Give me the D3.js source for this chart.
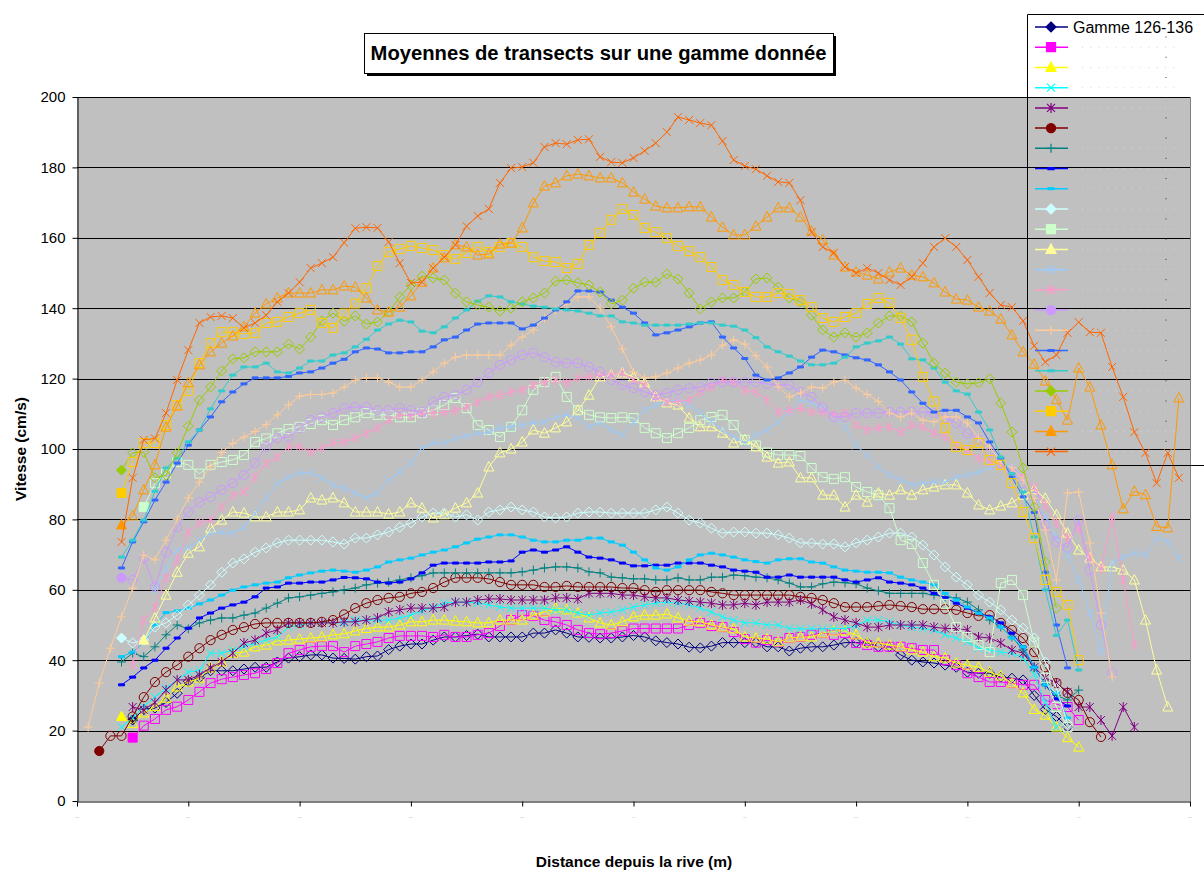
<!DOCTYPE html>
<html>
<head>
<meta charset="utf-8">
<script src="https://cdn.jsdelivr.net/npm/d3@7"></script>
<style>
  html, body { margin: 0; padding: 0; background: #fff; }
  svg { display: block; font-family: "Liberation Sans", Arial, sans-serif; }
</style>
</head>
<body>
<svg id="chart" width="1204" height="876"></svg>
<script>
// ---- data -------------------------------------------------------------
const titleText = "Moyennes de transects sur une gamme donnée";
const yTitle = "Vitesse (cm/s)";
const xTitle = "Distance depuis la rive (m)";
const legendLabel = "Gamme 126-136";

const yTicks = [0, 20, 40, 60, 80, 100, 120, 140, 160, 180, 200];
const xTickCats = [0, 10, 20, 30, 40, 50, 60, 70, 80, 90, 100];

// mean velocity (cm/s) per transect position, one array per range
const g01 = [null,null,null,null,null,23,26,26.4,28,30.6,
  34,35,37,37,37,37.5,38,38,39.5,40.6,
  41,41.5,41.5,40.6,40.5,40.3,41,41.2,43,44,
  44.6,44.6,45.7,46.6,46.6,47,47.4,46.6,46.6,46.6,
  46.6,47.7,47.7,48.6,47.7,46.6,46.5,46.3,46.3,46.6,
  47,46.6,45.5,45,44.6,43.7,43.5,44,45,45,
  45,45,43.8,43.8,42.6,43.4,43.8,43.8,44.3,45,
  45,44.9,43.8,43.8,41.5,40,39.5,39.2,38.6,38,
  36.6,36.3,36.3,35.2,34.9,34.4,30,26,24,21];
const g02 = [null,null,null,null,null,18,21.4,23.3,25.9,26.8,
  28.7,31,33.5,34.6,35.2,35.8,36.3,37.5,39.2,42,
  42.9,43.8,44,44,42.3,44,44.6,45.2,46.3,46.9,
  46.9,46.9,46.6,47.2,46.6,46.6,47.2,47.7,49.7,51.4,
  52.8,52.6,51.4,50.9,50,48.6,47.7,47.4,47.7,48.3,
  49,49,49,49,49,50,50.6,49.7,49.4,48,
  46,45,45.7,45.2,46.3,46.6,47.2,47.7,47.2,47.7,
  44.9,44.3,43.8,43.8,43.8,43.4,42.9,42.9,40,38.6,
  36.3,35.2,33.8,33.8,33.5,33,33,28.7,27.5,26.7,
  23];
const g03 = [null,null,null,null,24,22,25,26.8,29.2,32.4,
  33.8,34.9,37.8,39.5,42,42.3,43.8,44.3,45.5,45.7,
  46,46.3,46.6,47.2,47.5,48.3,49,49.4,49.4,50,
  50.9,50.9,51.4,51.4,51.1,50.9,50.6,50.6,51.4,51.4,
  51.4,52.8,53.7,54.8,54.3,53.4,52,50.6,50,50.9,
  52.3,52.8,52.8,53.1,52,51.1,50.9,50,49.4,48.9,
  46.6,46.3,46,45.2,46.3,46.6,46.6,47.7,48.3,48.3,
  47.2,44.9,44.9,44.3,43.8,42.9,42.3,41,40.6,39.2,
  38.6,38,36.6,35.5,33.5,30.7,26,24.4,21,18,
  15.3];
const g04 = [null,null,null,null,21,23.6,26.8,29.5,32,34.4,
  36.6,37.2,42,42,42.9,43.8,44.9,45.7,46.6,49.4,
  50,50.6,50.6,50.6,50.6,51.4,51.4,51.4,51.4,52,
  52.8,54,55,56.2,56.5,56.5,56.2,55.7,55.1,54.8,
  54.8,54.8,54.8,54.3,54.3,53.4,52.8,53.4,53.7,54.3,
  55.1,55.7,56.2,56.5,56.2,55.7,54.8,53.7,52.3,51.4,
  50.6,50.6,50,50,49,48.9,48.9,48.9,49,49,
  49.7,51.4,51.4,50.9,50,49.4,49,48.6,47.2,46.3,
  45.2,43.4,42.9,42.3,42,40.6,36,28,21];
const g05 = [null,null,null,null,null,26.7,25.9,28,31.5,34.4,
  34.4,35.8,37.8,39.5,42,44.9,45.7,47.7,48.6,50.6,
  50.6,50.6,50.6,50.6,50.9,50.9,51.4,52,53.7,54.3,
  54.8,54.8,54.8,55.1,56.5,56.5,57.1,57.4,57.4,57.1,
  57.1,57.1,57.1,57.7,57.7,57.4,59,59,59,58.5,
  58.5,58,57.7,57.7,57.1,56.8,56.5,56.2,55.7,55.7,
  56.2,55.7,56.5,56.5,56.5,57.1,56,54.3,52.3,51.4,
  50.6,49.4,49.4,50,50,50,50,49.4,49,49,
  48.6,46.6,46.3,44.9,42.9,42,38,35,33.5,31,
  26.7,26.7,23,18.5,26.7,21];
const g06 = [null,null,14.2,18.5,18.5,24,29.5,33.8,36.6,38.6,
  41,43.4,45.7,47.2,48.6,49.4,50.3,50.6,50.6,50.6,
  50.6,50.6,50.9,51.4,53,54.8,56.2,57.1,57.7,58,
  59,59.4,60.5,62.2,63.4,63.4,63.4,63.1,62.2,61.4,
  61.4,61.4,60.8,60.8,61.1,60.8,60.8,60.8,60.8,60.5,
  60.5,59.9,59.4,59.9,59.9,59.9,59.9,59.4,59,58.5,
  58.5,58.5,58.5,58.5,58.5,58,57.7,57.1,56.2,55.1,
  55.1,55.1,55.4,55.7,55.4,55.1,54.5,54.5,54.5,54.3,
  53.4,52.6,52.8,50.6,48.6,46.3,42.3,38,33.5,30.7,
  28.7,22.4,18.2];
const g07 = [null,null,null,null,39.5,42,41,43.8,47.2,50,
  48.9,50.6,51.4,52,52,52.8,53.4,54.8,56.2,57.7,
  58,58.5,59,59.4,60,60.5,61.4,61.9,62.2,62.8,
  63.4,64,64.8,64.8,64.8,64.8,64.8,64.8,64.8,64.8,
  65.1,65.6,66.2,66.5,66.5,66.2,65.1,64.8,63.6,63.4,
  63.1,63.1,62.8,62.8,63.4,62.8,62.8,63.6,63.6,64.2,
  64,63.6,63.4,62.8,61.9,60.8,60.8,61.7,62.2,62,
  61.7,60.5,59.7,59,59,59,59,58.5,58,57.7,
  56.5,54.3,51.4,49.4,46.6,42.9,38,33,30,28.7,
  31.5];
const g08 = [null,null,null,null,33,35.2,37.8,40,43.4,46.3,
  49.1,52,53.4,54.8,55.7,56.5,58,60.5,60.8,61.9,
  61.9,62.2,62.2,62.8,63.5,63.4,63.1,62.2,61.9,62.2,
  63.1,64.8,67,67.6,67.6,67.6,67.6,67.9,67.9,68.2,
  70.7,71.3,70.7,71.3,72.2,70.7,69.3,69,68.5,67.6,
  66.8,66.8,67,67,67.6,67.6,67.6,67,66.5,65.6,
  65.3,65,63.6,63.6,64.2,63.6,63.6,63.6,63.6,62.8,
  62.2,62.8,63.4,62.2,61.9,61.4,60.5,59,57.7,56.2,
  54.8,53.4,52.3,50.6,47.7,43.8,38,33,29,27];
const g09 = [null,null,null,null,41,42.3,45,50,53.5,54,
  54.8,56,57.1,58.5,59.9,60.8,61.4,61.9,62.2,63.4,
  64.2,64.8,65.3,65.6,65.3,65,65.6,66.5,67.9,68.5,
  69,69.9,70.7,71.3,72.2,73.3,74.4,75,75.6,75.6,
  75,74.1,73.6,73.6,74.1,74.1,74.7,74.7,73.6,72.7,
  70.7,68.5,66.2,65.6,66.5,68.5,69.9,70.4,69.9,69.3,
  68.5,68,67.6,68.5,68.8,68.8,67.9,67.6,66.5,65.6,
  65.3,65,65,64.8,63.6,62.8,62.2,61.4,59,57.1,
  55.1,53.4,52,49.4,46.3,43.8,38,33,30.7,23.6];
const g10 = [null,null,null,null,46.3,44.9,45.7,49.4,50.6,52.8,
  55.7,58.5,61.4,65,67.6,68.8,70.7,71.9,73.3,74.1,
  74.1,74.1,74.1,73.6,73,74.7,74.7,75.6,76.4,77.8,
  79,80.7,81.8,81.8,80.7,81.3,79.8,82.1,82.7,83.5,
  82.7,82.1,80.7,80.4,80.7,81.8,82.1,82.1,81.8,81.8,
  81.8,81.8,82.7,83.5,81.8,79.8,79,77.5,76.1,76.4,
  76.4,76.1,76.1,75.6,74.7,73.3,73.3,73,73,72.2,
  73.3,74.1,75,76.1,76.1,75,72.7,69.9,66.5,63.6,
  61.4,58.5,56.5,54.3,51.4,49.1,46.3,39.5,32,22];
const g11 = [null,null,null,null,null,null,83.5,90.3,93,96.3,
  95.5,93,95.5,96.3,96.9,98.3,102,103,104.5,105.7,
  106.3,107.1,108.2,106.8,108.2,109,110.2,109.7,109.7,109,
  109,110.2,111,112.5,114.5,111.6,106.8,105.4,103.4,106.3,
  111,116.8,119,120.5,114.8,111,109.7,109,108.8,109,
  108.8,106,104.5,103.1,104.5,106,108.2,109.1,109.7,106.8,
  102.6,101,99,98.3,98.3,98,94.6,92,91.5,92,
  89.2,87.8,86.9,83.2,74.1,73,67.6,61.4,56,49.4,
  46.6,44.3,42.3,61.9,62.8,58.5,45,35,26.7,21];
const g12 = [null,null,null,null,null,null,45.7,52,58.5,65,
  70.4,72.2,77.5,79.8,82.1,81.8,80.7,80.7,82.1,82.1,
  82.7,86.1,85.5,86.1,84.7,82.1,82.1,82.1,81.5,82.1,
  84.7,83.2,80.4,81.3,83.2,84.7,87.5,94.9,98.9,100,
  102,105.4,104.5,106,107.7,111,115.3,120.5,121,121.6,
  120.5,118.8,114.8,113.1,112.5,108.8,106.3,106.3,104.5,101.7,
  102.6,100.6,97.7,96,96.3,91.8,91.8,86.9,86.9,83.5,
  86.9,84.9,87.5,86.9,88.4,86.9,88.4,89.2,89.8,89.8,
  87.5,84.1,82.7,83.8,84.7,86.9,88.4,86,81.3,76.1,
  71.3,69,66.5,66.5,65.6,62.8,51.4,37.2,26.7];
const g13 = [null,null,null,null,null,null,null,60,66,71.3,
  71.9,74,76.1,76.4,76.1,77.8,81.8,86.1,90.3,92,
  93.2,93.2,91.8,89.8,88.9,87.5,86.1,87.5,91.2,93.5,
  96,100.3,101.7,101.7,103.1,103.7,104.5,104.8,106,106.3,
  106.8,107.4,107.7,109,109.7,108.8,106.3,107.4,105.4,104,
  107.7,111,112.5,113.4,113.9,112.5,110.2,107.7,105.4,103.4,
  101.7,104,105.4,107.7,110.5,113.9,113.1,111.6,109,106.3,
  101,98.3,94.9,92.6,91.2,89.8,90.3,90.6,90.6,92,
  92.6,93.5,94.6,96,95,92,86,80.7,75,69.9,
  62.8,53.4,42.3,67.6,69.3,70.4,69.9,74.7,73.6,69];
const g14 = [null,null,null,null,null,38.6,51.4,55,63.4,68.5,
  76.4,79,79.8,83.5,86.9,87.8,92,96,97.7,100.6,
  100.6,99.1,100.3,101.7,102,103.1,104.5,106,108.2,109.7,
  109.4,110.2,110.2,110.5,111,111.9,113.4,114.8,115.3,116.2,
  116.8,118.2,119,119.6,118.8,120.2,120.5,121,121,121.6,
  119.6,118.2,114.8,113.4,113.4,113.9,116.2,117.6,119.6,119,
  116.5,116.2,113.9,110.5,111,111.6,110.5,110.5,109.7,110.2,
  106.8,105.4,106,106.3,104.8,106.8,106.3,104.5,103.4,101,
  99.7,97.4,96.3,95.5,94,92,89.2,84,79,74.7,
  77.5,69,66,80.7,62.8,44.3];
const g15 = [null,null,null,null,63.4,62.8,69,60.8,70.7,77.8,
  82.1,84.9,86.4,88.4,90.3,92.6,96,100.6,103.1,103.4,
  106,108.2,109.1,110.2,111.6,111.9,111.9,111,111,111.6,
  111,110.5,113.4,114.8,115.3,116.8,119,121.6,123.9,125.3,
  126.7,127.3,126.1,124.7,124.4,124.4,123.3,121.9,119.6,118.2,
  117.3,116.2,115.3,115.9,116.8,117.3,117.6,118.8,119,119,
  119,119,118.5,118.2,118.2,116.2,114.8,111.9,109.1,109.1,
  110.2,110.2,110.2,110.5,110.5,110.5,110.5,110.2,108.8,107.4,
  104.5,102.6,99.1,96,93.2,90.3,86.4,78.4,73.6,72,
  79.8,65.6,50,36.4];
const g16 = [null,21,33.5,43.4,52.3,60.5,69.9,68.5,74.1,80,
  86.1,90.6,95,99,101.6,103.4,105,107,109.7,112.5,
  115,115.5,115.5,115.9,117.6,119.6,120.2,120.2,119,117.6,
  117.6,119.6,121.9,124.4,126.1,126.7,126.7,126.7,126.7,129.5,
  131.8,133.8,137.2,139.5,141.2,143.2,143.2,140,134.7,128.4,
  121.9,120.2,120.5,121.6,123,124.4,125.3,126.7,129.5,131,
  129.8,126.5,123.3,117.6,114.8,115.9,117.6,117.3,119,119.6,
  117.3,115.5,113.5,110.2,109.1,110.2,108.2,107.7,109.1,109.1,
  107.4,103.1,100.6,96.3,94.6,91.2,86,77,62.8,87.5,
  87.8,73.3,53.4,35.2];
const g17 = [null,null,null,null,66.2,73.6,79.3,85.5,90.6,96,
  101.1,105.4,109.1,113.4,116.2,118.5,120.2,120.2,120.2,120.6,
  121.6,121.9,123,124.4,125.5,127.6,128.7,128.4,127.3,127.3,
  127.6,127.6,129,131,131.8,133.8,135.5,135.8,135.8,135.8,
  134.1,135.2,137.2,139.5,141.8,144.9,144.9,144.6,142.3,140.3,
  138.6,135.8,132.4,133,133.8,134.7,135.8,136.1,131.8,128.7,
  125.7,121,119.6,120.2,121.6,123.3,126.1,128.1,127.6,126.7,
  125.9,125.3,123.9,121.9,119.6,116.2,113,110.5,111,111,
  109.1,107.4,102,97.4,92,86.4,82,65,50,37.8];
const g18 = [null,null,null,null,69.3,74.1,79.8,88,94.6,97.4,
  102,105.4,111.4,116.5,121,123.3,123.3,124.4,121.9,121.6,
  123,125,125,126.7,127.3,129,131.2,133.8,135.5,136.6,
  136.1,133.5,133,134.7,137.2,139.5,142,143.5,143.2,141.8,
  141.2,140.6,140.3,139.8,139.5,139.2,138.6,137.8,137.8,136.1,
  135.8,135.2,135.2,135.2,135.2,135.5,135.8,135.8,135.2,134.9,
  133.8,131.6,129,127.6,126.4,125,123.9,123.9,124.4,126.1,
  129,130.1,130.7,131.8,129.8,125.6,125.3,123,119,116.5,
  115.6,110.5,105.4,97.7,93,87.8,75,60,47,51.4,
  37.2];
const g19 = [null,null,null,null,94,98.9,99.1,91.8,92.6,98.9,
  106.5,113.9,117.6,122.2,125.6,125.9,127.6,127.6,127.6,129.8,
  128.4,131.8,136.4,138.6,136.3,137.8,135.5,136.1,138.9,143.2,
  146.6,149.1,148.6,148,144.3,141.8,140.9,140.3,139.2,140,
  141.8,142.9,144.3,147.7,148,147.2,146.6,144.6,141.2,142.3,
  145.7,147.4,147.4,149.7,148.3,144.3,139.8,141.8,142.9,142.9,
  144.6,148.3,148.6,146,142.9,141.8,138,133.8,131.8,133,
  131.8,133,135.8,137.8,137.8,136.1,130.1,124.4,121.6,119,
  118.5,118.8,119.9,113,104.8,94.6,83.5,67.9,54.8];
const g20 = [null,null,null,null,87.5,96.3,101.7,101.7,106.8,112.5,
  116.5,124.4,130.1,133.2,133.2,132.7,133,135.8,136.1,137.5,
  138.6,139.5,135.8,134.4,138.5,141.3,145.7,152,156,156.8,
  157.7,157.1,156.5,155.1,154,155.7,157.4,156,157.4,158.5,
  157.4,154.5,153.4,153.1,151.4,152.6,158,161.4,165.1,168.2,
  166.5,162.8,161.6,159.9,157.7,156.2,154.5,151.7,148,146.6,
  144.6,143.2,143.2,144.3,144,142.3,140.3,137.2,136.1,137.5,
  138.6,141.2,142.9,141.5,137.2,131,120.5,113.5,106,100.6,
  99.7,101.7,96.9,95.5,90.3,82.1,74.7,62.8,59.4,55.7,
  40];
const g21 = [null,null,null,null,78.4,81,88.4,95.5,106.2,112.2,
  118.8,123.9,127.6,130.1,132.1,134.7,138.6,141.2,142.9,144.3,
  144.3,144.3,145.2,145.2,146.3,146,142.9,139.5,138.9,140.3,
  143.5,147.4,151.4,154.3,158,157.4,155.1,155.4,158.2,158.5,
  162.8,169.9,174.7,175.6,177.6,178.1,177.6,177,177,175.6,
  173,171,169,168.5,168.5,168.8,168.8,165.9,163,160.8,
  160.8,163.3,165.9,168.5,168.5,165.9,161.9,159.4,155.1,151.7,
  150.3,149.4,148.3,150.3,151.4,149.4,148.9,147.2,144.6,142.6,
  142.3,140.3,139.2,136.9,132.4,127.6,124.1,119.3,114,108.2,
  123,117.6,106.8,95.5,83,88,87,78,77.6,114.5];
const g22 = [null,null,null,null,73.6,91.8,102.6,103,110.2,119.6,
  128.1,135.8,137.5,137.8,137.2,134.4,135.8,138,141.8,144.3,
  147.4,151.4,152.8,154.5,158.6,162.7,163,162.8,158.8,152.8,
  147.2,147.4,151.4,154.5,158,163.3,166.2,168.2,175.6,179.8,
  180.1,181.3,185.8,186.9,186.6,187.8,188,183,181.5,181.3,
  182.7,184.7,186.9,190,194.3,193.5,192.6,192,187.5,182.1,
  180.4,179.5,177.6,175.9,175.6,170.7,161.6,157.4,155.7,151.7,
  150,151.4,150,148,146.6,148.9,152.8,157.4,159.9,157.4,
  153.7,148.9,144.3,140.9,140.3,136.4,129.3,124.7,126.7,133,
  136,133.2,133,123.3,114.8,104.8,98.9,90.3,98.9,91.8];

const seriesValues = [g01,g02,g03,g04,g05,g06,g07,g08,g09,g10,g11,
                      g12,g13,g14,g15,g16,g17,g18,g19,g20,g21,g22];

// ---- styles -----------------------------------------------------------
const seriesColors = ["#000080","#FF00FF","#FFFF00","#00FFFF","#800080","#800000",
  "#008080","#0000FF","#00CCFF","#CCFFFF","#CCFFCC","#FFFF99","#99CCFF","#FF99CC",
  "#CC99FF","#FFCC99","#3366FF","#33CCCC","#99CC00","#FFCC00","#FF9900","#FF6600"];
const seriesMarkers = ["diamond","square","triangle","x","star","circle","plus","dash",
  "dash","diamond","square","triangle","x","star","circle","plus","dash","dash",
  "diamond","square","triangle","x"];

const markerPath = {
  diamond:  "M0,-5L5,0L0,5L-5,0Z",
  square:   "M-4.5,-4.5H4.5V4.5H-4.5Z",
  triangle: "M0,-5.5L5,4L-5,4Z",
  x:        "M-4,-4L4,4M-4,4L4,-4",
  star:     "M-4,-4L4,4M-4,4L4,-4M0,-5V5",
  circle:   "M4.6,0A4.6,4.6 0 1 1 -4.6,0A4.6,4.6 0 1 1 4.6,0Z",
  plus:     "M-4.5,0H4.5M0,-4.5V4.5",
  dash:     "M-3,-1H3V1H-3Z"
};
const fillable = new Set(["diamond","square","triangle","circle"]);

// ---- layout -----------------------------------------------------------
const W = 1204, H = 876;
const PL = 77, PR = 1190, PT = 97, PB = 801;

const svg = d3.select("#chart");
svg.append("rect").attr("width", W).attr("height", H).attr("fill", "#fff");

const x = d3.scaleLinear().domain([0, 100]).range([PL, PR]);
const y = d3.scaleLinear().domain([0, 200]).range([PB, PT]);

// plot background
svg.append("rect").attr("x", PL).attr("y", PT)
  .attr("width", PR - PL).attr("height", PB - PT).attr("fill", "#C0C0C0");

// horizontal gridlines
svg.append("g").selectAll("line")
  .data(yTicks.filter(v => v > 0))
  .join("line")
  .attr("x1", PL).attr("x2", PR)
  .attr("y1", d => Math.round(y(d)) + 0.5)
  .attr("y2", d => Math.round(y(d)) + 0.5)
  .attr("stroke", "#000").attr("stroke-width", 1);

// right border of the plot area
svg.append("line").attr("x1", PR + 0.5).attr("x2", PR + 0.5)
  .attr("y1", PT).attr("y2", PB).attr("stroke", "#808080");

// y axis
const yAxisG = svg.append("g")
  .attr("transform", `translate(${PL + 0.5},0)`)
  .call(d3.axisLeft(y).tickValues(yTicks).tickSize(5).tickSizeOuter(0).tickPadding(7));
yAxisG.select(".domain").attr("stroke", "#000");
yAxisG.selectAll(".tick line").attr("stroke", "#000");
yAxisG.selectAll(".tick text")
  .attr("font-family", "'Liberation Sans', Arial, sans-serif")
  .attr("font-size", 15).attr("fill", "#000");

// x axis (category ticks, labels left blank)
const xAxisG = svg.append("g")
  .attr("transform", `translate(0,${PB + 0.5})`)
  .call(d3.axisBottom(x).tickValues(xTickCats).tickSize(5).tickSizeOuter(0).tickFormat(""));
xAxisG.select(".domain").attr("stroke", "#000");
xAxisG.selectAll(".tick line").attr("stroke", "#000");
// faint specks under each tick
svg.append("g").selectAll("rect")
  .data(xTickCats).join("rect")
  .attr("x", d => x(d) - 2).attr("y", 817).attr("width", 4).attr("height", 1)
  .attr("fill", "#e4e4e4");

// ---- series -----------------------------------------------------------
const plotG = svg.append("g");
const line = d3.line()
  .defined(d => d != null)
  .x((d, i) => x(i))
  .y(d => y(d));

seriesValues.forEach((vals, k) => {
  const color = seriesColors[k];
  const m = seriesMarkers[k];
  const g = plotG.append("g");
  g.append("path").datum(vals)
    .attr("d", line)
    .attr("fill", "none")
    .attr("stroke", color)
    .attr("stroke-width", 1);
  const pts = vals.map((v, i) => ({ i, v })).filter(d => d.v != null);
  const firstI = pts[0].i;
  g.selectAll("path.mk").data(pts).join("path")
    .attr("class", "mk")
    .attr("transform", d => `translate(${x(d.i)},${y(d.v)})`)
    .attr("d", markerPath[m])
    .attr("fill", d => (m === "dash" || (fillable.has(m) && d.i === firstI)) ? color : "none")
    .attr("stroke", color)
    .attr("stroke-width", 1);
});

// ---- title --------------------------------------------------------------
const tb = { x: 364, y: 33, w: 469, h: 40 };
svg.append("rect").attr("x", tb.x + 3).attr("y", tb.y + 3)
  .attr("width", tb.w).attr("height", tb.h).attr("fill", "#000");
svg.append("rect").attr("x", tb.x + 0.5).attr("y", tb.y + 0.5)
  .attr("width", tb.w).attr("height", tb.h)
  .attr("fill", "#fff").attr("stroke", "#000");
const title = svg.append("text")
  .attr("x", tb.x + tb.w / 2).attr("y", tb.y + 27)
  .attr("text-anchor", "middle")
  .attr("font-weight", "bold").attr("font-size", 18)
  .text(titleText);
const tw = title.node().getComputedTextLength();
title.attr("font-size", 18 * 456 / tw);

// axis titles
svg.append("text")
  .attr("transform", `translate(26,449) rotate(-90)`)
  .attr("text-anchor", "middle")
  .attr("font-weight", "bold").attr("font-size", 15.5)
  .text(yTitle);
svg.append("text")
  .attr("x", 634).attr("y", 867)
  .attr("text-anchor", "middle")
  .attr("font-weight", "bold").attr("font-size", 15.5)
  .text(xTitle);

// ---- legend -------------------------------------------------------------
const LX = 1027, LY = 14, LB = 465, rowH = 20.22, row0 = 27;
const leg = svg.append("g");
leg.append("path")
  .attr("d", `M${W + 2},${LY + 0.5}H${LX + 0.5}V${LB + 0.5}H${W + 2}`)
  .attr("fill", "none").attr("stroke", "#000");

seriesColors.forEach((color, k) => {
  const cy = row0 + k * rowH;
  const m = seriesMarkers[k];
  leg.append("line").attr("x1", 1035).attr("x2", 1068)
    .attr("y1", cy).attr("y2", cy)
    .attr("stroke", color).attr("stroke-width", 1.5);
  leg.append("path")
    .attr("transform", `translate(1051,${cy})`)
    .attr("d", markerPath[m])
    .attr("fill", (fillable.has(m) || m === "dash") ? color : "none")
    .attr("stroke", color).attr("stroke-width", 1.2);
  // faint placeholder specks where the other range names sit
  if (k > 0) {
    leg.append("g").selectAll("rect")
      .data(d3.range(12)).join("rect")
      .attr("x", j => 1082 + j * 8.3).attr("y", cy - 0.5)
      .attr("width", 1).attr("height", 1)
      .attr("fill", "#d8d8d8");
  }
  if (k < seriesColors.length - 1) {
    leg.append("rect").attr("x", 1165.5).attr("y", cy + 9.5)
      .attr("width", 1).attr("height", 1).attr("fill", "#333");
  }
});
leg.append("text")
  .attr("x", 1073).attr("y", row0 + 6)
  .attr("font-size", 16)
  .text(legendLabel);
</script>
</body>
</html>
